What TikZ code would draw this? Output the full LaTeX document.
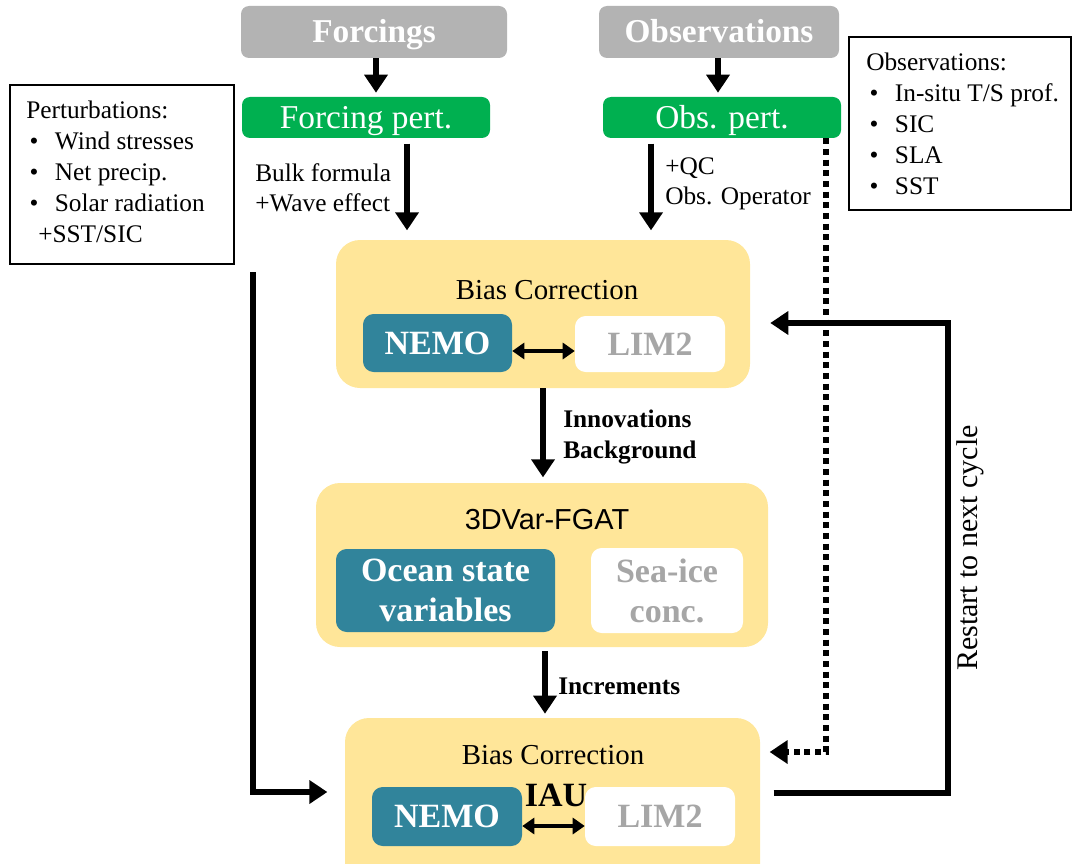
\documentclass[tikz,border=0pt]{standalone}
\usepackage{fontspec}
\setmainfont{Liberation Serif}
\newfontfamily\arialf{Liberation Sans}
\usetikzlibrary{arrows.meta}
\definecolor{fgray}{HTML}{B3B3B3}
\definecolor{fgreen}{HTML}{00B050}
\definecolor{fyellow}{HTML}{FFE699}
\definecolor{fteal}{HTML}{31849B}
\definecolor{ltgray}{HTML}{A6A6A6}
\newcommand{\fsz}[2]{\fontsize{#1}{#2}\selectfont}
\newcommand{\itm}[1]{\hspace*{2.5pt}\makebox[19pt][l]{\textbullet}#1}
\begin{document}
\begin{tikzpicture}[x=0.75pt,y=-0.75pt,
  hdr/.style={rounded corners=6pt, fill=fgray, text=white, font=\fsz{25pt}{30pt}\bfseries, inner sep=0pt, text height=17pt, text depth=0.5pt},
  pertbox/.style={rounded corners=6pt, fill=fgreen, text=white, font=\fsz{25pt}{30pt}, inner sep=0pt, text height=17pt, text depth=0.5pt},
  panel/.style={rounded corners=18pt, fill=fyellow, inner sep=0pt},
  model/.style={rounded corners=8pt, fill=fteal, text=white, font=\fsz{25.5pt}{30pt}\bfseries, inner sep=0pt, align=center},
  ice/.style={rounded corners=8pt, fill=white, text=ltgray, font=\fsz{25.5pt}{30pt}\bfseries, inner sep=0pt, align=center},
  infobox/.style={draw, line width=1.2pt, inner sep=0pt},
  infotext/.style={font=\fsz{19pt}{23.25pt}, align=left, anchor=west, inner sep=0pt},
  arr/.style={line width=4pt, -{Triangle[width=17pt,length=13.5pt]}},
  darr/.style={line width=3pt, {Triangle[width=12pt,length=9pt]}-{Triangle[width=12pt,length=9pt]}},
  lbl/.style={font=\fsz{19pt}{22.5pt}, align=left, anchor=west, inner sep=0pt},
  blbl/.style={font=\fsz{19pt}{23pt}\bfseries, align=left, anchor=west, inner sep=0pt},
  dotarr/.style={line width=4pt, dash pattern=on 4.5pt off 3.5pt, -{Triangle[width=17pt,length=13.5pt]}}
]
\useasboundingbox (0,0) rectangle (1073,863);
\clip (0,0) rectangle (1073,863);

% header boxes
\node[hdr, minimum width=199.5pt, minimum height=39pt] (forc) at (374,32) {Forcings};
\node[hdr, minimum width=180pt, minimum height=39pt] (obs) at (719,32) {Observations};
\node[pertbox, minimum width=186pt, minimum height=30.75pt] (fpert) at (366,117.5) {Forcing pert.};
\node[pertbox, minimum width=178.5pt, minimum height=30.75pt] (opert) at (722,117.5) {Obs. pert.};

% info boxes
\node[infobox, minimum width=168pt, minimum height=134.25pt] (pbox) at (122,174.5) {};
\node[infotext] (ptext) at (26,172) {Perturbations:\\\itm{Wind stresses}\\\itm{Net precip.}\\\itm{Solar radiation}\\\hspace*{9pt}+SST/SIC};
\node[infobox, minimum width=166.5pt, minimum height=129.75pt] (obox) at (960,123.5) {};
\node[infotext] (otext) at (866,124) {Observations:\\\itm{In-situ T/S prof.}\\\itm{SIC}\\\itm{SLA}\\\itm{SST}};

% panels
\node[panel, minimum width=310.5pt, minimum height=111pt] (bias1) at (543,314) {};
\node[font=\fsz{21.7pt}{26pt}, inner sep=0pt] (bt1) at (547,290) {Bias Correction};
\node[model, minimum width=111.75pt, minimum height=43.5pt] (nemo1) at (437.5,343) {NEMO};
\node[ice, minimum width=112.5pt, minimum height=42pt] (lim1) at (650,344) {LIM2};

\node[panel, minimum width=339pt, minimum height=123pt] (var) at (542,565) {};
\node[font=\arialf\fsz{21.7pt}{26pt}, inner sep=0pt] (vt) at (547,520) {3DVar-FGAT};
\node[model, minimum width=164.25pt, minimum height=62.25pt] (ocean) at (445.5,590.5) {Ocean state\\variables};
\node[ice, minimum width=114pt, minimum height=63.75pt] (seaice) at (667,590.5) {Sea-ice\\conc.};

\node[panel, minimum width=311.25pt, minimum height=129pt] (bias3) at (552.5,804) {};
\node[font=\fsz{21.7pt}{26pt}, inner sep=0pt] (bt3) at (553,755) {Bias Correction};
\node[model, minimum width=112.5pt, minimum height=44.25pt] (nemo2) at (447,816.5) {NEMO};
\node[ice, minimum width=112.5pt, minimum height=44.25pt] (lim2) at (660,816.5) {LIM2};
\node[font=\fsz{25.5pt}{30pt}\bfseries, inner sep=0pt] (iau) at (556,795) {IAU};

% labels
\node[lbl] (bulk) at (255,188) {Bulk formula\\+Wave effect};
\node[lbl] (qc) at (665,184) {+QC\\Obs. Operator};
\node[blbl] (innov) at (563,437) {Innovations\\Background};
\node[blbl] (incr) at (558,686) {Increments};
\node[font=\fsz{22.5pt}{26pt}, rotate=90, inner sep=0pt] (restart) at (970,548) {Restart to next cycle};

% coordinates
\coordinate (lc1) at (253,272);
\coordinate (lc2) at (253,792);
\coordinate (rc1) at (948,793);
\coordinate (rc2) at (948,323);
\coordinate (dc1) at (826,752);

% arrows
\draw[arr, shorten >=3pt] (forc.south -| 376,0) -- (fpert.north -| 376,0);
\draw[arr, shorten >=3pt] (obs.south -| 718,0) -- (opert.north -| 718,0);
\draw[arr, shorten <=4pt, shorten >=7pt] (fpert.south -| 407,0) -- (bias1.north -| 407,0);
\draw[arr, shorten <=4pt, shorten >=7pt] (opert.south -| 651,0) -- (bias1.north -| 651,0);
\draw[arr, shorten >=4pt] (bias1.south -| 543,0) -- (var.north -| 543,0);
\draw[arr, shorten <=3pt, shorten >=3pt] (var.south -| 545,0) -- (bias3.north -| 545,0);
\draw[dotarr, shorten >=7pt] (opert.south -| dc1) -- (dc1) -- (bias3.east |- dc1);
\draw[arr, shorten >=13pt] (lc1) -- (lc2) -- (bias3.west |- lc2);
\draw[arr, shorten <=10pt, shorten >=15pt] (bias3.east |- rc1) -- (rc1) -- (rc2) -- (bias1.east |- rc2);
\draw[darr] (nemo1.east |- 0,351) -- (lim1.west |- 0,351);
\draw[darr] (nemo2.east |- 0,826) -- (lim2.west |- 0,826);
\end{tikzpicture}
\end{document}
